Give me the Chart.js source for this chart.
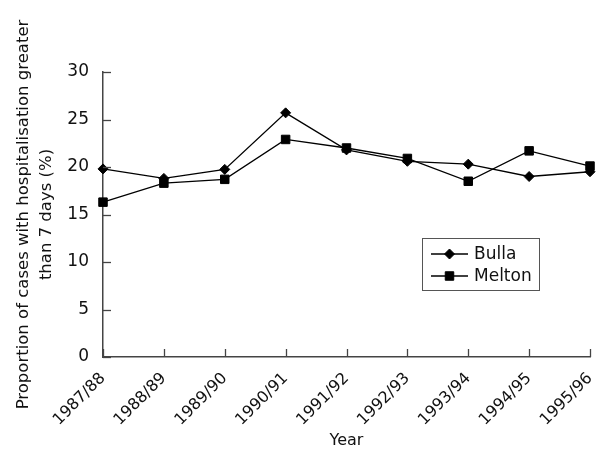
<!DOCTYPE html>
<html>
<head>
<meta charset="utf-8">
<script src="https://cdn.jsdelivr.net/npm/chart.js@4/dist/chart.umd.min.js"></script>
<style>
html,body{margin:0;padding:0;background:#fff;}
#wrap{width:597px;height:450px;position:relative;}
</style>
</head>
<body>
<div id="wrap"><canvas id="c" width="597" height="450"></canvas></div>
<script>
const categories = ["1987/88","1988/89","1989/90","1990/91","1991/92","1992/93","1993/94","1994/95","1995/96"];
const bulla = [19.8, 18.8, 19.75, 25.7, 21.8, 20.6, 20.3, 19.0, 19.5];
const melton = [16.3, 18.3, 18.7, 22.9, 22.0, 20.9, 18.5, 21.7, 20.1];
const yTicks = [0, 5, 10, 15, 20, 25, 30];

const FONT = "'DejaVu Sans', sans-serif";

const innerTicks = {
  id: 'innerTicks',
  afterDraw(chart) {
    const ctx = chart.ctx;
    const x = chart.scales.x, y = chart.scales.y;
    ctx.save();
    ctx.strokeStyle = '#444';
    ctx.lineWidth = 1.3;
    yTicks.forEach(v => {
      const py = Math.round(y.getPixelForValue(v)) + 0.5;
      ctx.beginPath(); ctx.moveTo(x.left, py); ctx.lineTo(x.left + 8, py); ctx.stroke();
    });
    categories.forEach((c, i) => {
      const px = Math.round(x.getPixelForValue(i)) + 0.5;
      ctx.beginPath(); ctx.moveTo(px, y.bottom); ctx.lineTo(px, y.bottom - 8); ctx.stroke();
    });
    // legend box
    const bx = 422, by = 238, bw = 117, bh = 52;
    ctx.strokeStyle = '#555';
    ctx.lineWidth = 1;
    ctx.strokeRect(bx + 0.5, by + 0.5, bw, bh);
    const items = chart.data.datasets;
    items.forEach((ds, k) => {
      const ly = by + 16 + k * 22;
      ctx.strokeStyle = '#000';
      ctx.lineWidth = 1.3;
      ctx.beginPath(); ctx.moveTo(bx + 9, ly); ctx.lineTo(bx + 46, ly); ctx.stroke();
      ctx.fillStyle = '#000';
      ctx.lineWidth = 1;
      Chart.helpers.drawPoint(ctx, {pointStyle: ds.pointStyle, radius: ds.pointRadius, borderWidth: 1}, bx + 27.5, ly);
      ctx.font = "17px " + FONT;
      ctx.textBaseline = 'middle';
      ctx.textAlign = 'left';
      ctx.fillStyle = '#111';
      ctx.fillText(ds.label, bx + 52, ly + 1);
    });
    ctx.restore();
  }
};

new Chart(document.getElementById('c'), {
  type: 'line',
  data: {
    labels: categories,
    datasets: [
      {label: 'Bulla', data: bulla, borderColor: '#000', backgroundColor: '#000', borderWidth: 1.3,
       pointStyle: 'rectRot', pointRadius: 5, pointBorderWidth: 1, pointBackgroundColor: '#000', pointBorderColor: '#000', tension: 0},
      {label: 'Melton', data: melton, borderColor: '#000', backgroundColor: '#000', borderWidth: 1.3,
       pointStyle: 'rect', pointRadius: 6, pointBorderWidth: 1, pointBackgroundColor: '#000', pointBorderColor: '#000', tension: 0}
    ]
  },
  options: {
    responsive: false,
    animation: false,
    devicePixelRatio: 1,
    layout: {padding: {top: 72, right: 4, left: 0, bottom: 0}},
    plugins: {legend: {display: false}, tooltip: {enabled: false}},
    scales: {
      x: {
        type: 'category',
        offset: false,
        grid: {display: false},
        border: {display: true, color: '#444', width: 1.5},
        ticks: {color: '#111', font: {family: FONT, size: 16}, minRotation: 45, maxRotation: 45, padding: 4, autoSkip: false},
        title: {display: true, text: 'Year', color: '#111', font: {family: FONT, size: 16}, padding: {top: 0, bottom: 0}},
        afterFit(s) { s.height = 93; s.paddingLeft = 0; s.paddingRight = 0; }
      },
      y: {
        min: 0, max: 30,
        afterBuildTicks(s) { s.ticks = yTicks.map(v => ({value: v})); },
        grid: {display: false},
        border: {display: true, color: '#444', width: 1.5},
        ticks: {color: '#111', font: {family: FONT, size: 17}, padding: 6},
        title: {display: true, text: ['Proportion of cases with hospitalisation greater', 'than 7 days (%)'],
                color: '#111', font: {family: FONT, size: 16.5, lineHeight: 1.4}, padding: {top: 12, bottom: 0}},
        afterFit(s) { s.width = 103; s.paddingTop = 0; s.paddingBottom = 0; }
      }
    }
  },
  plugins: [innerTicks]
});
</script>
</body>
</html>
